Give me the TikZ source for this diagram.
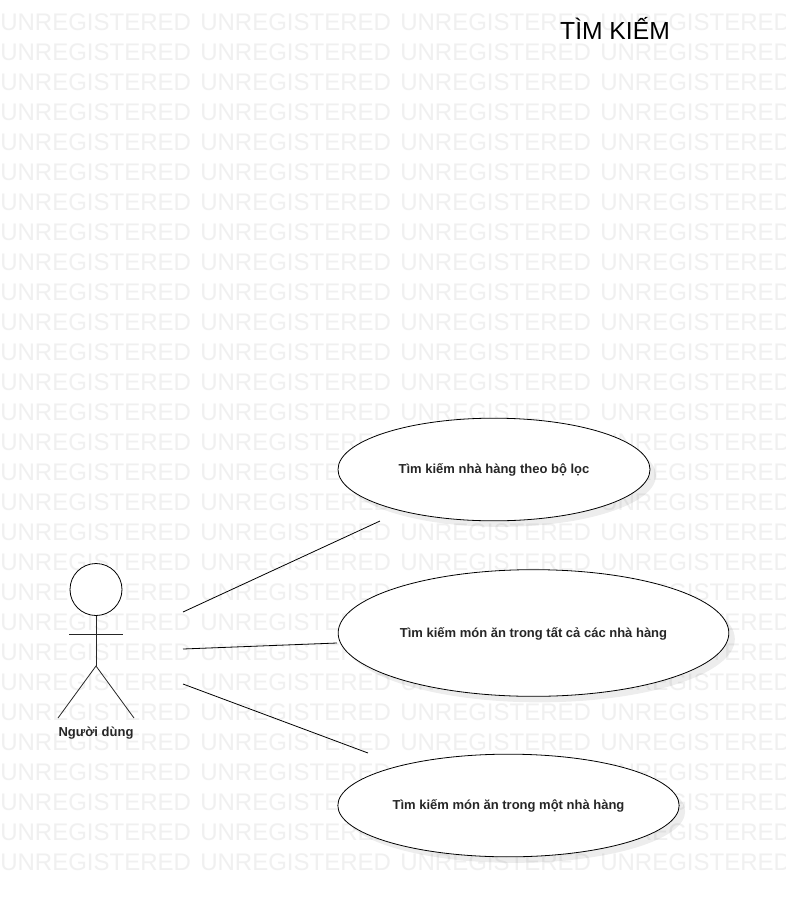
\documentclass[tikz,border=0pt]{standalone}
\usepackage{fontspec}
\setmainfont{Liberation Sans}
\usetikzlibrary{shapes.geometric, shadows}
\definecolor{wmgray}{HTML}{F0F0F0}
\tikzset{
  watermark/.style={
    anchor=west, inner sep=0pt, text=wmgray, font=\fontsize{18pt}{18pt}\selectfont
  },
  usecase/.style={
    ellipse, draw=black, fill=white, line width=0.6pt, inner sep=0pt,
    text height=8pt, text depth=2pt,
    font=\bfseries\fontsize{9.75pt}{11pt}\selectfont, text=black!85,
    drop shadow={shadow xshift=4.5pt,shadow yshift=-4.5pt,opacity=0.07,fill=black}
  },
  stick/.style={
    line width=0.6pt, draw=black!85
  },
  assoc/.style={
    line width=0.6pt, draw=black
  }
}

\begin{document}
\begin{tikzpicture}[x=0.75pt,y=-0.75pt]
\useasboundingbox[fill=white] (0,0) rectangle (786,897);

% background text
\foreach \row in {0,...,28}
  \foreach \col in {0,...,3}
    \node[watermark] (wm-\row-\col) at ({200*\col},{22+30*\row}) {UNREGISTERED};

\node[inner sep=0pt, font=\fontsize{18.5pt}{18.5pt}\selectfont] (title) at (615,28) {TÌM KIẾM};

% actor
\node[circle, draw=black, fill=white, line width=0.6pt, minimum size=39pt, inner sep=0pt] (head) at (96,589.5) {};
\coordinate (neck) at (96,634);
\coordinate (hip) at (96,666);
\coordinate (handL) at (69,634);
\coordinate (handR) at (123,634);
\coordinate (footL) at (58,718);
\coordinate (footR) at (134,718);
\draw[stick] (head.south) -- (hip);
\draw[stick] (handL) -- (handR);
\draw[stick] (footL) -- (hip) -- (footR);
\node[inner sep=0pt, font=\bfseries\fontsize{9.75pt}{11pt}\selectfont, text=black!85] (user) at (96,733) {Người dùng};

% use cases
\node[usecase, minimum width=234pt, minimum height=77pt] (filter) at (494,469.5) {Tìm kiếm nhà hàng theo bộ lọc};
\node[usecase, minimum width=293pt, minimum height=95pt] (allrest) at (533.5,633) {Tìm kiếm món ăn trong tất cả các nhà hàng};
\node[usecase, minimum width=256pt, minimum height=77pt] (onerest) at (508.5,805.5) {Tìm kiếm món ăn trong một nhà hàng};

% connectors
\coordinate (a1) at (183,612);
\coordinate (b1) at (380,521);
\coordinate (a2) at (183,649);
\coordinate (b2) at (337,643);
\coordinate (a3) at (183,684);
\coordinate (b3) at (368,753);
\draw[assoc] (a1) -- (b1);
\draw[assoc] (a2) -- (b2);
\draw[assoc] (a3) -- (b3);
\end{tikzpicture}
\end{document}
